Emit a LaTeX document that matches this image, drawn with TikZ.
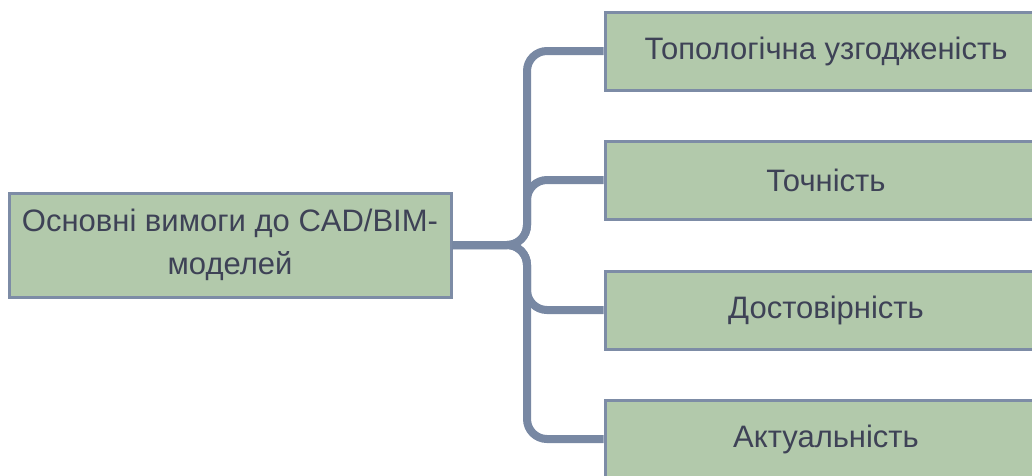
\documentclass[tikz,border=0pt]{standalone}
\usepackage{fontspec}
\setmainfont{Liberation Sans}
\definecolor{boxfill}{HTML}{B2C9AB}
\definecolor{boxline}{HTML}{7D8CA6}
\definecolor{connline}{HTML}{7888A3}
\definecolor{txt}{HTML}{3E4256}
\tikzset{
  box/.style={rectangle, draw=boxline, fill=boxfill, line width=3pt, text=txt,
    font=\fontsize{31}{43}\selectfont, align=center, inner sep=0pt},
  leftbox/.style={box, minimum width=442pt, minimum height=104pt},
  rightbox/.style={box, minimum width=442pt, minimum height=78pt},
  conn/.style={draw=connline, line width=8pt, rounded corners=20pt}
}
\begin{document}
\begin{tikzpicture}[x=1pt,y=-1pt]
\useasboundingbox (0,0) rectangle (1032,475);
\node[leftbox] (L) at (230,245) {Основні вимоги до CAD/BIM-\\моделей};
\node[rightbox] (R1) at (826,51) {Топологічна узгодженість};
\node[rightbox] (R2) at (826,180) {Точність};
\node[rightbox] (R3) at (826,310) {Достовірність};
\node[rightbox] (R4) at (826,439) {Актуальність};
\coordinate (sp) at (527,245);
\draw[conn] (L.east) -- (sp) |- (R1.west);
\draw[conn] (L.east) -- (sp) |- (R2.west);
\draw[conn] (L.east) -- (sp) |- (R3.west);
\draw[conn] (L.east) -- (sp) |- (R4.west);
\end{tikzpicture}
\end{document}
